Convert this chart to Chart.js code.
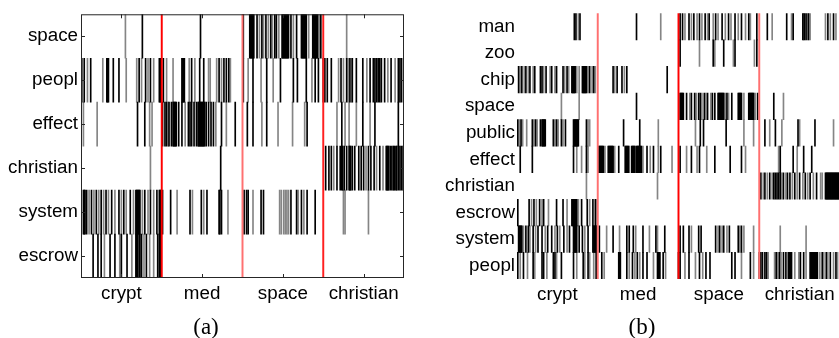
<!DOCTYPE html>
<html><head><meta charset="utf-8">
<script src="https://cdn.jsdelivr.net/npm/chart.js@4"></script>
<style>
html,body{margin:0;padding:0;background:#fff;overflow:hidden;width:839px;height:338px;position:relative}
canvas{position:absolute;top:0}
#ca{left:0}
#cb{left:420px}
.cap{position:absolute;top:313px;font-family:"Liberation Serif","DejaVu Serif",serif;font-size:23px;line-height:28px;color:#000;transform:translateX(-50%)}
</style></head><body>
<canvas id="ca" width="420" height="338"></canvas>
<canvas id="cb" width="420" height="338"></canvas>
<span class="cap" style="left:206px">(a)</span>
<span class="cap" style="left:642px">(b)</span>
<script>
// ---------- shared categories ----------
const GROUPS = ['crypt','med','space','christian'];
const GROUP_CENTERS = [50,150,250,350];
const GROUP_BOUNDS = [100,200,300];
const DOC_MAX = 400;

// ---------- panel (a) ----------
const ROWS_A = ['space','peopl','effect','christian','system','escrow'];
const a_space_black = [76,148,201,209,210,211,212,213,214,218,224,229,235,240,242,249,250,251,252,253,254,255,256,257,260,267,273,274,275,276,277,278,279,287,288,289,290,291,292,293,297];
const a_space_gray = [55,221,226,232,237,245,263,282,295,329];
const a_peopl_black = [1,4,12,32,33,34,40,47,72,80,86,97,98,99,102,125,126,127,128,137,147,152,171,177,180,183,201,213,230,247,263,268,279,290,294,300,302,305,310,322,329,333,336,341,349,358,362,364,366,368,370,372,376,384,393,395,397];
const a_peopl_gray = [8,27,56,69,75,83,90,106,114,134,141,158,160,168,174,185,207,223,238,286,319,325,331,335,354,380,389];
const a_effect_black = [70,79,101,104,106,109,112,114,115,116,117,118,121,125,133,135,137,140,143,145,146,147,148,149,150,151,152,153,155,158,161,164,174,191,206,213,230,280,323,349,364,393];
const a_effect_gray = [3,20,85,88,108,129,167,180,224,244,262,277,317,327,332,341,358];
const a_christian_black = [173,303,307,310,317,321,323,324,326,329,332,333,334,336,339,344,347,350,356,359,363,370,378,379,380,381,383,385,387,388,390,391,393,395,397,399];
const a_christian_gray = [86,313,353,366,374];
const a_system_black = [3,4,5,7,13,19,25,31,38,47,53,61,68,69,70,71,72,73,79,86,94,97,98,99,101,111,135,149,156,171,172,174,202,205,207,223,226,260,267,273,280,290];
const a_system_gray = [10,16,22,28,34,42,50,56,65,76,83,90,119,138,152,182,213,246,248,251,253,255,257,269,276,325,327,356];
const a_escrow_black = [15,21,25,36,42,50,57,68,69,70,72,73,75,81,95,97,98,99];
const a_escrow_gray = [29,48,63,78,85,90];

// ---------- panel (b) ----------
const ROWS_B = ['man','zoo','chip','space','public','effect','christian','escrow','system','peopl'];
const b_man_black = [71,73,78,148,202,205,213,219,226,233,238,246,254,262,270,278,287,297,310,334,342,354,356,358,361,385,392];
const b_man_gray = [76,178,208,216,223,229,236,243,249,258,265,274,283,289,316,340,355,360,363,382,388,395];
const b_zoo_black = [202,243,256,270,297];
const b_zoo_gray = [226,245,268,294];
const b_chip_black = [2,6,11,16,22,29,31,36,43,49,57,62,68,69,70,71,72,81,82,83,84,85,86,90,95,119,124,130,136,186];
const b_chip_gray = [4,9,14,20,33,41,47,59,64,74,77,88,93,97,121,133];
const b_space_black = [148,202,203,204,205,206,210,216,220,225,227,232,236,242,245,249,250,251,252,253,254,255,256,260,266,274,275,276,277,278,287,288,289,290,291,292,293,298,318];
const b_space_gray = [55,77,214,222,229,234,240,258,262,281,295,330];
const b_public_black = [1,5,19,23,29,31,32,33,34,35,45,49,55,60,70,71,72,73,74,75,76,86,132,152,227,231,259,307,320,348,369];
const b_public_gray = [3,7,12,21,25,47,51,57,88,90,175,221,281,293,313,328,350,392];
const b_effect_black = [4,19,70,86,101,102,103,104,105,106,107,113,114,115,116,117,118,119,126,134,135,136,137,138,142,143,144,145,146,148,149,150,151,152,153,154,161,169,178,202,216,226,245,264,278,326,342,355,365];
const b_effect_gray = [74,80,88,109,121,139,156,165,175,192,210,223,235,283,324,347];
const b_christian_black = [302,307,313,318,320,322,324,326,330,335,338,344,350,357,363,371,382,383,384,385,386,387,388,389,390,391,392,393,394,395,396,397,398,399];
const b_christian_gray = [86,174,305,310,316,328,333,341,347,354,360,367,376,378];
const b_escrow_black = [1,15,21,28,33,49,57,68,69,70,71,72,73,74,80,87,94,97];
const b_escrow_gray = [18,24,31,39,62,76,90,99];
const b_system_black = [2,3,4,5,6,11,14,20,26,31,38,43,50,58,65,70,71,72,73,74,77,81,88,94,95,96,97,98,99,102,119,136,139,144,156,172,183,202,206,213,225,228,246,251,256,263,274,278];
const b_system_gray = [8,16,23,35,47,53,62,84,111,127,147,164,174,216,249,254,260,276,281,293,326,358];
const b_peopl_black = [1,8,20,31,33,45,47,55,70,82,88,98,99,105,126,127,128,136,143,149,156,161,174,175,176,177,181,200,202,213,226,234,239,266,270,289,300,302,304,307,309,321,325,330,333,336,337,338,339,340,351,355,363,364,365,366,367,368,369,370,371,372,378,383,388,395];
const b_peopl_gray = [4,13,22,37,49,74,84,90,95,108,139,146,152,169,184,208,221,230,278,293,311,319,323,327,344,349,358,375,380,385,392,397];

const A_BLACK = [a_space_black,a_peopl_black,a_effect_black,a_christian_black,a_system_black,a_escrow_black];
const A_GRAY  = [a_space_gray,a_peopl_gray,a_effect_gray,a_christian_gray,a_system_gray,a_escrow_gray];
const B_BLACK = [b_man_black,b_zoo_black,b_chip_black,b_space_black,b_public_black,b_effect_black,b_christian_black,b_escrow_black,b_system_black,b_peopl_black];
const B_GRAY  = [b_man_gray,b_zoo_gray,b_chip_gray,b_space_gray,b_public_gray,b_effect_gray,b_christian_gray,b_escrow_gray,b_system_gray,b_peopl_gray];

const LABEL_FONT = {family:'"Liberation Sans", Arial, Helvetica, sans-serif', size:18.8};

function rowsToBars(rows){
  const out = [];
  rows.forEach((list,i)=>list.forEach(x=>out.push({x:x, y:[i,i+1]})));
  return out;
}

const framePlugin = {
  id:'frame',
  afterDraw(chart){
    const ctx = chart.ctx, a = chart.chartArea;
    const xs = chart.scales.x, ys = chart.scales.y;
    ctx.save();
    ctx.strokeStyle = '#262626';
    ctx.lineWidth = 1;
    ctx.strokeRect(a.left+0.5, a.top+0.5, a.right-a.left-1, a.bottom-a.top-1);
    ctx.beginPath();
    GROUP_CENTERS.forEach(v=>{
      const px = Math.round(xs.getPixelForValue(v))+0.5;
      ctx.moveTo(px,a.bottom); ctx.lineTo(px,a.bottom-4);
      ctx.moveTo(px,a.top); ctx.lineTo(px,a.top+4);
    });
    ys.ticks.forEach(t=>{
      const py = Math.round(ys.getPixelForValue(t.value))+0.5;
      ctx.moveTo(a.left,py); ctx.lineTo(a.left+4,py);
      ctx.moveTo(a.right,py); ctx.lineTo(a.right-4,py);
    });
    ctx.stroke();
    ctx.restore();
  }
};

function makeChart(id, rowNames, blackRows, grayRows, sepColors, yWidth, padRight, xHeight, yPad, withFrame){
  const n = rowNames.length;
  return new Chart(document.getElementById(id), {
    type:'bar',
    data:{datasets:[
      {label:'sep', data:GROUP_BOUNDS.map(x=>({x:x, y:[0,n]})), backgroundColor:sepColors, barThickness:1.3, order:0},
      {label:'black', data:rowsToBars(blackRows), backgroundColor:'#000000', barThickness:1.0, order:1},
      {label:'gray', data:rowsToBars(grayRows), backgroundColor:'#858585', barThickness:1.0, order:2}
    ]},
    options:{
      responsive:false, animation:false, indexAxis:'x',
      datasets:{bar:{grouped:false, borderWidth:0, borderSkipped:false}},
      layout:{padding:{top:12, right:padRight, left:0, bottom:0}},
      plugins:{legend:{display:false}, tooltip:{enabled:false}},
      scales:{
        x:{type:'linear', min:0, max:DOC_MAX, offset:false,
           grid:{display:false, drawTicks:false}, border:{display:false},
           afterBuildTicks:s=>{ s.ticks = GROUP_CENTERS.map(v=>({value:v})); },
           ticks:{callback:(v,i)=>GROUPS[i], font:LABEL_FONT, color:'#000', padding:5, maxRotation:0, autoSkip:false},
           afterFit:s=>{ s.height = xHeight; }},
        y:{type:'linear', min:0, max:n, reverse:true, beginAtZero:true,
           grid:{display:false, drawTicks:false}, border:{display:false},
           afterBuildTicks:s=>{ s.ticks = rowNames.map((_,i)=>({value:i+0.5})); },
           ticks:{callback:(v,i)=>rowNames[i], font:LABEL_FONT, color:'#000', padding:yPad, autoSkip:false},
           afterFit:s=>{ s.width = yWidth; }}
      }
    },
    plugins: withFrame ? [framePlugin] : []
  });
}

makeChart('ca', ROWS_A, A_BLACK, A_GRAY, ['#ff0000','#ff7070','#ff2020'], 81, 16, 60, 3, true);
makeChart('cb', ROWS_B, B_BLACK, B_GRAY, ['#ff7070','#ff0000','#ff7070'], 97, 0, 59, 2, false);
</script>
</body></html>
